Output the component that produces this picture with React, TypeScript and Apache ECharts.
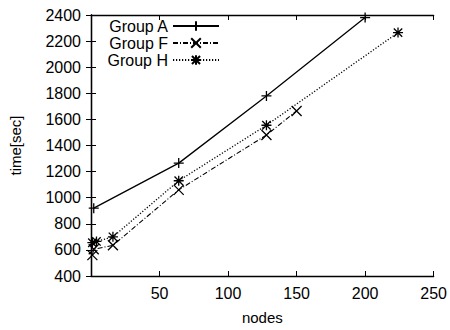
import React, { useEffect, useRef } from "react";
import * as echarts from "echarts";

const xTicks = [0, 50, 100, 150, 200, 250];
const yTicks = [400, 600, 800, 1000, 1200, 1400, 1600, 1800, 2000, 2200, 2400];

const seriesNames = ["Group A", "Group F", "Group H"];
const groupA: [number, number][] = [[2, 920], [64, 1265], [128, 1780], [200, 2380]];
const groupF: [number, number][] = [[1, 560], [2, 605], [16, 635], [64, 1060], [128, 1480], [150, 1665]];
const groupH: [number, number][] = [[1, 655], [4, 665], [16, 700], [64, 1130], [128, 1555], [224, 2265]];

const PLUS = "path://M0,5L10,5M5,0L5,10";
const CROSS = "path://M0,0L10,10M10,0L0,10";
const STAR = "path://M0,5L10,5M5,0L5,10M0.8,0.8L9.2,9.2M9.2,0.8L0.8,9.2";

const FONT = "Liberation Sans";

export default function App() {
  const ref = useRef<HTMLDivElement>(null);
  useEffect(() => {
    if (!ref.current) return;
    const chart = echarts.init(ref.current, undefined, { renderer: "svg" });
    const axisLine = { show: true, lineStyle: { color: "#000", width: 1.3 } };
    const tick = { show: true, inside: true, length: 5, lineStyle: { color: "#000", width: 1 } };
    const label = { color: "#000", fontFamily: FONT, fontSize: 16 };
    const mk = (name: string, data: [number, number][], symbol: string, dash: any, width: number) => ({
      name,
      type: "line",
      data,
      xAxisIndex: 0,
      yAxisIndex: 0,
      symbol,
      symbolSize: 10,
      showSymbol: true,
      lineStyle: { color: "#000", width, type: dash },
      itemStyle: { color: "#000", borderColor: "#000", borderWidth: 1.3 },
      emphasis: { disabled: true },
    });
    const legendRow = (name: string, top: number) => ({
      data: [name],
      right: 230,
      top,
      orient: "vertical",
      align: "right",
      itemWidth: 46,
      itemHeight: 12,
      padding: 0,
      textStyle: { color: "#000", fontFamily: FONT, fontSize: 16 },
      selectedMode: false,
    });
    chart.setOption({
      animation: false,
      backgroundColor: "#fff",
      grid: { left: 90, right: 15, top: 15, bottom: 47, containLabel: false },
      legend: [legendRow(seriesNames[0], 18), legendRow(seriesNames[1], 35), legendRow(seriesNames[2], 52)],
      xAxis: [
        {
          type: "value",
          min: xTicks[0],
          max: xTicks[xTicks.length - 1],
          interval: 50,
          position: "bottom",
          name: "nodes",
          nameLocation: "middle",
          nameGap: 34,
          nameTextStyle: { color: "#000", fontFamily: FONT, fontSize: 15 },
          axisLine,
          axisTick: tick,
          axisLabel: { ...label, margin: 9, formatter: (v: number) => (v === 0 ? "" : String(v)) },
          splitLine: { show: false },
        },
        {
          type: "value",
          min: xTicks[0],
          max: xTicks[xTicks.length - 1],
          interval: 50,
          position: "top",
          axisLine,
          axisTick: tick,
          axisLabel: { show: false },
          splitLine: { show: false },
        },
      ],
      yAxis: [
        {
          type: "value",
          min: yTicks[0],
          max: yTicks[yTicks.length - 1],
          interval: 200,
          position: "left",
          name: "time[sec]",
          nameLocation: "middle",
          nameRotate: 90,
          nameGap: 68,
          nameTextStyle: { color: "#000", fontFamily: FONT, fontSize: 15 },
          axisLine,
          axisTick: tick,
          axisLabel: { ...label, margin: 10, formatter: (v: number) => String(v) },
          splitLine: { show: false },
        },
        {
          type: "value",
          min: yTicks[0],
          max: yTicks[yTicks.length - 1],
          interval: 200,
          position: "right",
          axisLine,
          axisTick: tick,
          axisLabel: { show: false },
          splitLine: { show: false },
        },
      ],
      series: [
        mk(seriesNames[0], groupA, PLUS, "solid", 1.3),
        mk(seriesNames[1], groupF, CROSS, [5, 2, 1, 2], 1.1),
        mk(seriesNames[2], groupH, STAR, [1.2, 1.8], 1.3),
      ],
    });
    return () => chart.dispose();
  }, []);
  return <div ref={ref} style={{ width: 450, height: 330, position: "absolute", left: 0, top: 0 }} />;
}
